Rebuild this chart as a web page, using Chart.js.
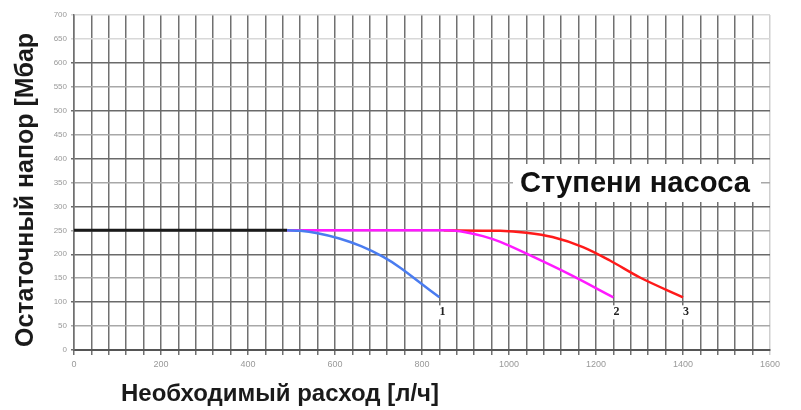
<!DOCTYPE html>
<html>
<head>
<meta charset="utf-8">
<script src="https://cdn.jsdelivr.net/npm/chart.js@4"></script>
<style>
html,body{margin:0;padding:0;background:#fff;}
#wrap{width:801px;height:410px;position:relative;}
</style>
</head>
<body>
<div id="wrap"><canvas id="c" width="801" height="410"></canvas></div>
<script>
// Data
const xTicksMax = 1600;
const yTicksMax = 700;
const baseX = [0, 490];
const baseY = [250, 250];
const stage1X = [490, 520, 560, 610, 660, 710, 750, 795, 840];
const stage1Y = [250, 249, 244, 233, 217, 195, 172, 141, 110];
const stage2X = [490, 860, 900, 940, 980, 1055, 1135, 1240];
const stage2Y = [250, 250, 246, 238, 226, 195, 160, 110];
const stage3X = [850, 980, 1040, 1100, 1170, 1232, 1300, 1400];
const stage3Y = [250, 249, 245, 236, 215, 187, 152, 110];
const stageLabels = ['1', '2', '3'];
const xTitle = 'Необходимый расход [л/ч]';
const yTitle = 'Остаточный напор [Мбар';
const legendTitle = 'Ступени насоса';

const pts = (xs, ys) => xs.map((x, i) => ({x: x, y: ys[i]}));

const overlay = {
  id: 'overlay',
  afterDatasetsDraw(chart) {
    const ctx = chart.ctx;
    const xs = chart.scales.x, ys = chart.scales.y;
    const series = [[stage1X, stage1Y], [stage2X, stage2Y], [stage3X, stage3Y]];
    ctx.save();
    ctx.font = 'bold 12px "Liberation Serif", serif';
    ctx.textAlign = 'center';
    ctx.textBaseline = 'middle';
    series.forEach((s, i) => {
      const lx = xs.getPixelForValue(s[0][s[0].length - 1]) + 3;
      const ly = ys.getPixelForValue(s[1][s[1].length - 1]) + 15;
      ctx.fillStyle = '#fff';
      ctx.fillRect(lx - 7, ly - 7, 14, 14);
      ctx.fillStyle = '#222';
      ctx.fillText(stageLabels[i], lx, ly);
    });
    ctx.fillStyle = '#fff';
    ctx.fillRect(513, 164, 248, 38);
    ctx.fillStyle = '#111';
    ctx.font = 'bold 30px "Liberation Sans", Arial, sans-serif';
    ctx.textAlign = 'left';
    ctx.textBaseline = 'alphabetic';
    ctx.fillText(legendTitle, 520, 192, 230);
    ctx.restore();
  },
  afterDraw(chart) {
    const ctx = chart.ctx;
    ctx.save();
    ctx.fillStyle = '#1a1a1a';
    ctx.font = 'bold 24px "Liberation Sans", Arial, sans-serif';
    ctx.textAlign = 'left';
    ctx.textBaseline = 'alphabetic';
    ctx.fillText(xTitle, 121, 401, 318);
    ctx.translate(33, 190);
    ctx.rotate(-Math.PI / 2);
    ctx.font = 'bold 25px "Liberation Sans", Arial, sans-serif';
    ctx.textAlign = 'center';
    ctx.fillText(yTitle, 0, 0, 314);
    ctx.restore();
  }
};

new Chart(document.getElementById('c'), {
  type: 'line',
  data: {
    datasets: [
      {data: pts(stage1X, stage1Y), borderColor: '#4a7cf0', borderWidth: 2.5},
      {data: pts(stage2X, stage2Y), borderColor: '#ff1aff', borderWidth: 2.5},
      {data: pts(stage3X, stage3Y), borderColor: '#ff1a1a', borderWidth: 2.5},
      {data: pts(baseX, baseY), borderColor: '#1a1a1a', borderWidth: 3}
    ]
  },
  options: {
    responsive: false,
    animation: false,
    layout: {padding: {top: 15, right: 31, left: 0, bottom: 0}},
    elements: {
      point: {radius: 0},
      line: {cubicInterpolationMode: 'monotone', fill: false}
    },
    plugins: {legend: {display: false}, tooltip: {enabled: false}},
    scales: {
      x: {
        type: 'linear', min: 0, max: xTicksMax,
        afterFit(s) { s.height = 60; },
        ticks: {
          stepSize: 40, autoSkip: false, maxRotation: 0, padding: 4,
          color: '#999', font: {size: 9, family: 'Liberation Sans'},
          callback: v => (v % 200 === 0 ? v : '')
        },
        grid: {
          color: c => (c.tick && c.tick.value === xTicksMax ? '#cfcfcf' : '#707070'),
          lineWidth: 1.5, tickLength: 5
        },
        border: {color: '#555', width: 2}
      },
      y: {
        type: 'linear', min: 0, max: yTicksMax,
        afterFit(s) { s.width = 74; },
        ticks: {
          stepSize: 50, padding: 4,
          color: '#999', font: {size: 8, family: 'Liberation Sans'}
        },
        grid: {
          color: c => {
            const v = c.tick ? c.tick.value : 0;
            if (v >= 650) return '#d8d8d8';
            return v % 100 === 0 ? '#6a6a6a' : '#a8a8a8';
          },
          lineWidth: 1.5, tickLength: 3
        },
        border: {color: '#707070', width: 1.5}
      }
    }
  },
  plugins: [overlay]
});
</script>
</body>
</html>
